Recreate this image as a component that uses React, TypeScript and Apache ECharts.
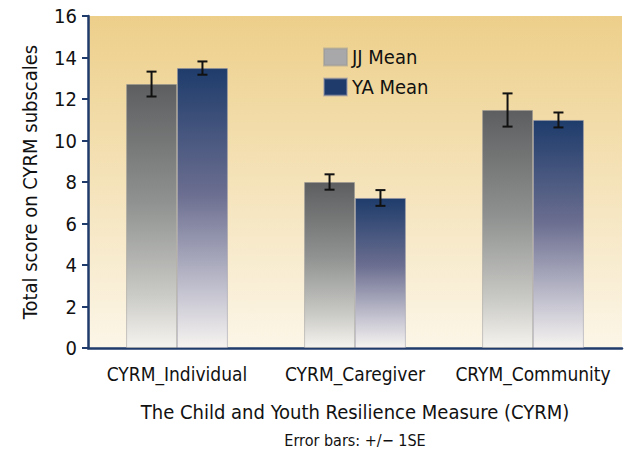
import React, { useEffect, useRef } from "react";
import * as echarts from "echarts";

const categories = ["CYRM_Individual", "CYRM_Caregiver", "CRYM_Community"];
const jjMean = [12.72, 8.0, 11.47];
const jjSE = [0.6, 0.37, 0.8];
const yaMean = [13.49, 7.23, 10.99];
const yaSE = [0.32, 0.38, 0.36];
const seriesNames = ["JJ Mean", "YA Mean"];

const FONT = '"Liberation Sans Narrow", "DejaVu Sans Condensed", "Open Sans", sans-serif';
const NAVY = "#1f3b6b";
const BAR_RATIO = 0.286;

export default function App() {
  const ref = useRef<HTMLDivElement>(null);
  useEffect(() => {
    if (!ref.current) return;
    const chart = echarts.init(ref.current, null, { renderer: "svg" });
    const G = echarts.graphic.LinearGradient;
    const jjGrad = new G(0, 0, 0, 1, [
      { offset: 0, color: "#5d5e60" },
      { offset: 0.45, color: "#8f9290" },
      { offset: 0.8, color: "#cacac6" },
      { offset: 1, color: "#f5f3ee" },
    ]);
    const yaGrad = new G(0, 0, 0, 1, [
      { offset: 0, color: "#1e3c6b" },
      { offset: 0.45, color: "#6b6e90" },
      { offset: 0.8, color: "#c4c3d0" },
      { offset: 1, color: "#f6f3f0" },
    ]);
    const errData = (means: number[], se: number[], side: number) =>
      means.map((m, i) => [i, m - se[i], m + se[i], side]);
    const renderErr = (params: any, api: any) => {
      const i = api.value(0);
      const lo = api.coord([i, api.value(1)]);
      const hi = api.coord([i, api.value(2)]);
      const band = api.size([1, 0])[0];
      const x = lo[0] + (api.value(3) * band * BAR_RATIO) / 2;
      const cap = 5;
      const style = { stroke: "#111", lineWidth: 2 };
      return {
        type: "group",
        children: [
          { type: "line", shape: { x1: x, y1: lo[1], x2: x, y2: hi[1] }, style },
          { type: "line", shape: { x1: x - cap, y1: lo[1], x2: x + cap, y2: lo[1] }, style },
          { type: "line", shape: { x1: x - cap, y1: hi[1], x2: x + cap, y2: hi[1] }, style },
        ],
      };
    };
    chart.setOption({
      animation: false,
      textStyle: { fontFamily: FONT },
      grid: {
        left: 88,
        right: 2,
        top: 16,
        bottom: 109,
        show: true,
        borderWidth: 0,
        backgroundColor: new G(0, 0, 0, 1, [
          { offset: 0, color: "#edcf8a" },
          { offset: 1, color: "#fcf6e8" },
        ]),
      },
      legend: {
        orient: "vertical",
        left: 318,
        top: 42,
        itemWidth: 23,
        itemHeight: 17,
        itemGap: 10,
        textStyle: { fontFamily: FONT, fontSize: 20, color: "#111" },
        data: [
          { name: seriesNames[0], icon: "rect", itemStyle: { color: "#a8a8aa" } },
          { name: seriesNames[1], icon: "rect", itemStyle: { color: NAVY } },
        ],
      },
      xAxis: {
        type: "category",
        data: categories,
        axisLine: { lineStyle: { color: NAVY, width: 2.5 } },
        axisTick: { show: false },
        axisLabel: { fontFamily: FONT, fontSize: 19, color: "#111", margin: 16, interval: 0 },
        name: "The Child and Youth Resilience Measure (CYRM)",
        nameLocation: "middle",
        nameGap: 54,
        nameTextStyle: { fontFamily: FONT, fontSize: 20, color: "#111" },
      },
      yAxis: {
        type: "value",
        min: 0,
        max: 16,
        interval: 2,
        splitLine: { show: false },
        axisLine: { show: true, lineStyle: { color: NAVY, width: 2.5 } },
        axisTick: { show: true, length: 6, lineStyle: { color: NAVY, width: 2 } },
        axisLabel: { fontFamily: FONT, fontSize: 20, color: "#111", margin: 11 },
        name: "Total score on CYRM subscales",
        nameLocation: "middle",
        nameGap: 48,
        nameTextStyle: { fontFamily: FONT, fontSize: 20, color: "#111" },
      },
      graphic: [
        {
          type: "text",
          x: 355,
          y: 440,
          style: {
            text: "Error bars: +/\u2212 1SE",
            fontFamily: FONT,
            fontSize: 16,
            fill: "#111",
            textAlign: "center",
            textVerticalAlign: "middle",
          },
        },
      ],
      series: [
        {
          name: seriesNames[0],
          type: "bar",
          data: jjMean,
          barWidth: `${BAR_RATIO * 100}%`,
          barGap: "0%",
          itemStyle: { color: jjGrad, borderColor: "rgba(150,150,150,0.5)", borderWidth: 1 },
        },
        {
          name: seriesNames[1],
          type: "bar",
          data: yaMean,
          barWidth: `${BAR_RATIO * 100}%`,
          barGap: "0%",
          itemStyle: { color: yaGrad, borderColor: "rgba(150,150,170,0.5)", borderWidth: 1 },
        },
        {
          type: "custom",
          renderItem: renderErr,
          data: errData(jjMean, jjSE, -1),
          z: 10,
          silent: true,
        },
        {
          type: "custom",
          renderItem: renderErr,
          data: errData(yaMean, yaSE, 1),
          z: 10,
          silent: true,
        },
      ],
    });
    return () => chart.dispose();
  }, []);
  return (
    <div
      ref={ref}
      style={{ position: "fixed", left: 0, top: 0, width: 624, height: 457, background: "#fff" }}
    />
  );
}
